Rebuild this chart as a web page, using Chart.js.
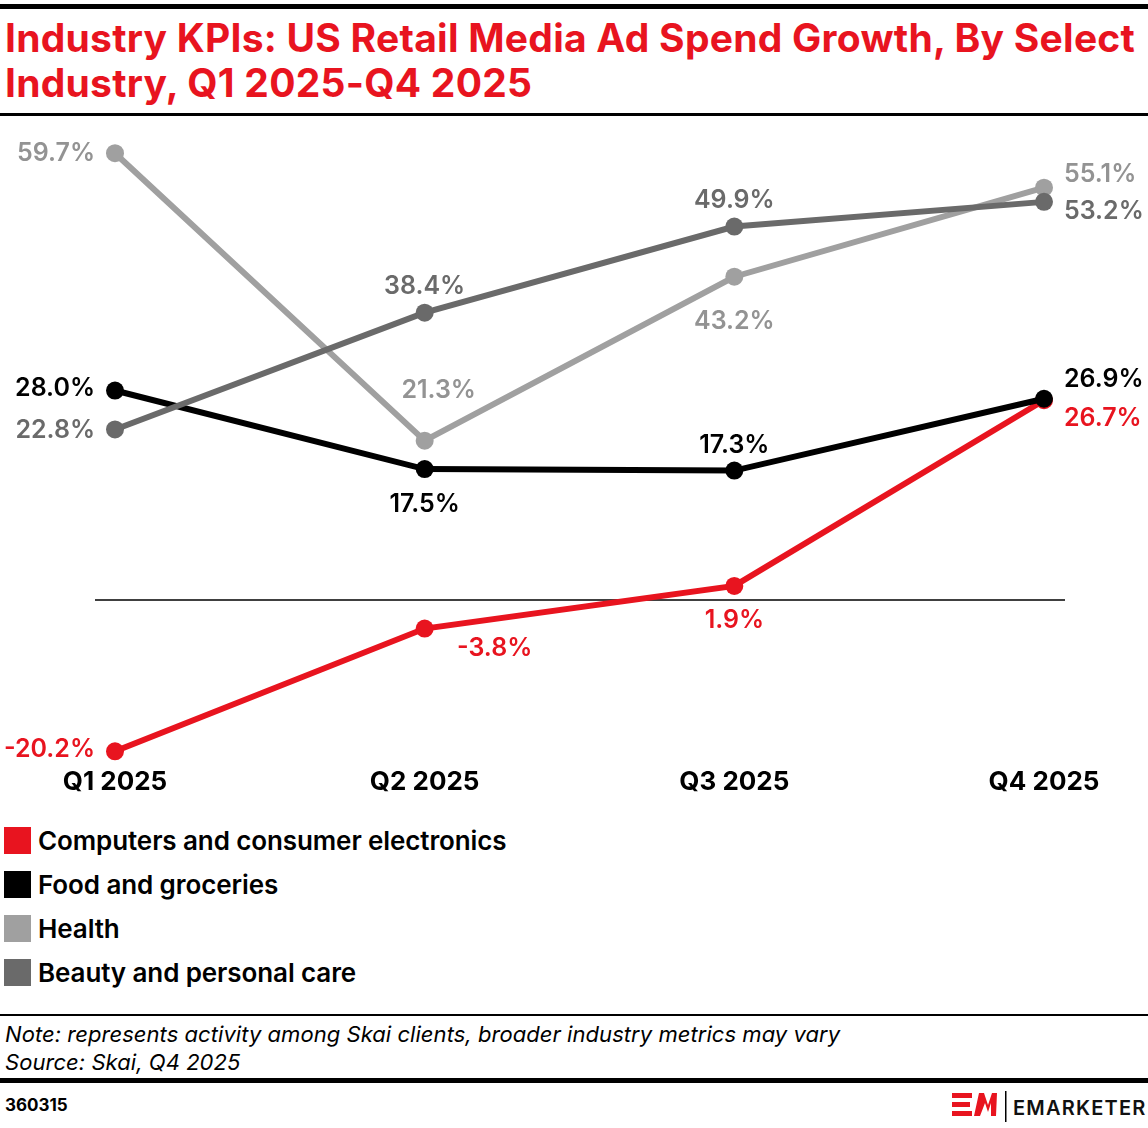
<!DOCTYPE html>
<html>
<head>
<meta charset="utf-8">
<script src="https://cdn.jsdelivr.net/npm/chart.js@4.4.1/dist/chart.umd.min.js"></script>
<style>
  html, body { margin: 0; padding: 0; background: #fff; }
  body { width: 1148px; height: 1128px; position: relative; overflow: hidden; font-family: Inter, "Noto Sans", sans-serif; }
  .bar { position: absolute; left: 0; width: 1148px; background: #000; }
  #title { position: absolute; left: 5px; top: 15px; margin: 0; color: #e8141f; font-size: 39px; line-height: 45px; font-weight: 700; letter-spacing: 0.25px; }
  #wrap { position: absolute; left: 0; top: 120px; width: 1148px; height: 692px; }
  #legend { position: absolute; left: 4px; top: 818px; }
  .item { height: 44px; display: flex; align-items: center; font-size: 26px; font-weight: 600; color: #000; letter-spacing: -0.1px; }
  .sw { width: 27px; height: 27px; margin-right: 7px; }
  #note { position: absolute; left: 5px; top: 1020px; font-size: 22px; line-height: 28px; font-style: italic; color: #000; letter-spacing: 0.05px; }
  #code { position: absolute; left: 5px; top: 1095px; font-size: 17px; font-weight: 700; }
  #logo { position: absolute; left: 950px; top: 1090px; }
</style>
</head>
<body>
<div class="bar" style="top:4px;height:5px"></div>
<h1 id="title">Industry KPIs: US Retail Media Ad Spend Growth, By Select<br>Industry, Q1 2025-Q4 2025</h1>
<div class="bar" style="top:113px;height:3px"></div>
<div id="wrap"><canvas id="chart"></canvas></div>
<div id="legend"></div>
<div class="bar" style="top:1014px;height:2px"></div>
<div id="note">Note: represents activity among Skai clients, broader industry metrics may vary<br>Source: Skai, Q4 2025</div>
<div class="bar" style="top:1078px;height:5px"></div>
<div id="code">360315</div>
<svg id="logo" width="198" height="34" viewBox="0 0 198 34">
  <g fill="#e8141f">
    <rect x="2" y="3" width="20" height="5"/>
    <rect x="2" y="12" width="18" height="5"/>
    <rect x="2" y="21" width="20" height="5"/>
    <polygon points="24,26 29,3 34,3 38,15 42,3 47,3 46,26 41,26 41,13 38,22 35,13 30,26"/>
  </g>
  <rect x="55" y="1" width="1.5" height="31" fill="#000"/>
  <text x="63" y="25" font-family="Inter, sans-serif" font-size="20" font-weight="600" letter-spacing="1.2" fill="#111">EMARKETER</text>
</svg>
<script>
var quarters = ['Q1 2025', 'Q2 2025', 'Q3 2025', 'Q4 2025'];
var seriesNames = ['Computers and consumer electronics', 'Food and groceries', 'Health', 'Beauty and personal care'];
var computers = [-20.2, -3.8, 1.9, 26.7];
var food = [28.0, 17.5, 17.3, 26.9];
var health = [59.7, 21.3, 43.2, 55.1];
var beauty = [22.8, 38.4, 49.9, 53.2];

var lineColors = ['#e8141f', '#000000', '#a0a0a0', '#6a6a6a'];
var labelColors = ['#e8141f', '#000000', '#939393', '#6a6a6a'];
// label placement per point: [dx, dy, align]
var labelPlace = [
  [[-20, -2, 'right'], [70, 20, 'center'], [0, 35, 'center'], [20, 18, 'left']],
  [[-20, -2, 'right'], [0, 35, 'center'], [0, -25, 'center'], [20, -19, 'left']],
  [[-20, 0, 'right'], [14, -50, 'center'], [0, 45, 'center'], [20, -13, 'left']],
  [[-20, 1, 'right'], [0, -26, 'center'], [0, -26, 'center'], [20, 10, 'left']]
];

var allSeries = [computers, food, health, beauty];

var legend = document.getElementById('legend');
seriesNames.forEach(function(name, i) {
  var row = document.createElement('div');
  row.className = 'item';
  row.innerHTML = '<span class="sw" style="background:' + lineColors[i] + '"></span>' + name;
  legend.appendChild(row);
});

var zeroLine = {
  id: 'zeroLine',
  beforeDatasetsDraw: function(chart) {
    var ctx = chart.ctx, area = chart.chartArea;
    var y = chart.scales.y.getPixelForValue(0);
    ctx.save();
    ctx.strokeStyle = '#000';
    ctx.lineWidth = 1.5;
    ctx.beginPath();
    ctx.moveTo(area.left - 20, y);
    ctx.lineTo(area.right + 21, y);
    ctx.stroke();
    ctx.restore();
  }
};

var pointLabels = {
  id: 'pointLabels',
  afterDatasetsDraw: function(chart) {
    var ctx = chart.ctx;
    ctx.save();
    ctx.font = '600 25px Inter, sans-serif';
    ctx.textBaseline = 'middle';
    chart.data.datasets.forEach(function(ds, i) {
      var meta = chart.getDatasetMeta(i);
      meta.data.forEach(function(pt, j) {
        var p = labelPlace[i][j];
        ctx.fillStyle = labelColors[i];
        ctx.textAlign = p[2];
        ctx.fillText(ds.data[j].toFixed(1) + '%', pt.x + p[0], pt.y + p[1]);
      });
    });
    ctx.restore();
  }
};

new Chart(document.getElementById('chart'), {
  type: 'line',
  data: {
    labels: quarters,
    datasets: allSeries.map(function(vals, i) {
      return {
        label: seriesNames[i],
        data: vals,
        borderColor: lineColors[i],
        backgroundColor: lineColors[i],
        pointBackgroundColor: lineColors[i],
        pointBorderWidth: 0,
        pointRadius: 9,
        borderWidth: 6,
        tension: 0,
        clip: false,
        order: 4 - i
      };
    })
  },
  options: {
    responsive: true,
    maintainAspectRatio: false,
    animation: false,
    layout: { padding: { left: 115, right: 104, top: 16, bottom: 12 } },
    plugins: { legend: { display: false }, tooltip: { enabled: false } },
    scales: {
      x: {
        grid: { display: false, drawTicks: false },
        border: { display: false },
        ticks: { color: '#000', padding: 2, font: { family: 'Inter', size: 26, weight: '700' }, maxRotation: 0 }
      },
      y: { display: false, min: -22, max: 62 }
    }
  },
  plugins: [zeroLine, pointLabels]
});
</script>
</body>
</html>
